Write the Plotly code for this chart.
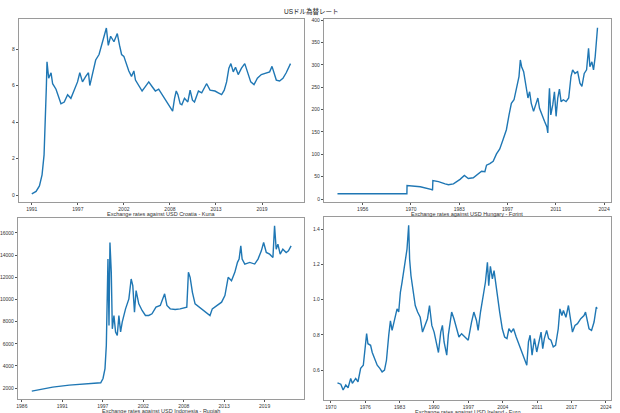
import pandas as pd
import plotly.graph_objects as go

# readings: decimal year / rate against USD
kuna_year = [1991.9, 1992.41, 1992.81, 1993.12, 1993.36, 1993.52, 1993.63, 1993.71, 1993.91, 1994.19,
             1994.38, 1994.78, 1995.17, 1995.37, 1995.76, 1996.16, 1996.55, 1996.94, 1997.34, 1997.61,
             1997.93, 1998.32, 1998.64, 1998.8, 1999.11, 1999.5, 1999.9, 2000.21, 2000.49, 2000.77,
             2001.0, 2001.28, 2001.67, 2002.07, 2002.34, 2002.58, 2002.85, 2003.13, 2003.44, 2003.76,
             2004.04, 2004.23, 2004.63, 2005.02, 2005.34, 2005.81, 2006.2, 2006.6, 2006.99, 2007.38,
             2007.78, 2008.17, 2008.45, 2008.65, 2008.88, 2009.08, 2009.28, 2009.55, 2009.75, 2010.06,
             2010.46, 2010.73, 2011.01, 2011.25, 2011.72, 2012.11, 2012.51, 2012.7, 2013.1, 2013.69,
             2014.08, 2014.48, 2014.79, 2015.07, 2015.34, 2015.58, 2015.86, 2016.13, 2016.45, 2016.84,
             2017.23, 2017.63, 2017.94, 2018.33, 2018.73, 2019.2, 2019.8, 2020.19, 2020.47, 2020.7,
             2020.98, 2021.37, 2021.77, 2022.16, 2022.44, 2022.67]
kuna_rate = [0.07, 0.2, 0.5, 1.1, 2.2, 3.9, 5.9, 7.3, 6.4, 6.7,
             6.1, 5.8, 5.3, 5.0, 5.1, 5.5, 5.3, 5.7, 6.2, 6.7,
             6.2, 6.5, 6.7, 6.0, 6.6, 7.4, 7.7, 8.2, 8.8, 9.15,
             8.2, 8.7, 8.4, 8.85, 8.2, 7.7, 7.6, 7.2, 6.8, 6.5,
             6.8, 6.3, 6.0, 5.7, 5.9, 6.2, 5.95, 5.7, 5.8, 5.5,
             5.2, 4.95, 4.7, 4.6, 5.3, 5.7, 5.5, 5.0, 4.95, 5.3,
             5.1, 5.75, 5.2, 5.1, 5.7, 5.6, 5.95, 6.1, 5.75, 5.7,
             5.6, 5.5, 5.75, 6.2, 6.95, 7.2, 6.75, 7.0, 6.6, 6.95,
             7.2, 6.7, 6.2, 6.05, 6.4, 6.6, 6.7, 6.75, 7.05, 6.7,
             6.3, 6.25, 6.4, 6.7, 6.95, 7.2]

forint_year = [1949.17, 1968.85, 1968.89, 1972.65, 1975.94, 1976.12, 1976.22, 1977.81, 1979.69, 1980.63,
               1982.04, 1983.92, 1985.14, 1986.26, 1987.67, 1989.08, 1990.02, 1990.96, 1991.43, 1992.37,
               1993.31, 1994.25, 1995.18, 1996.12, 1997.06, 1997.81, 1998.47, 1999.22, 1999.88, 2000.63,
               2001.01, 2001.38, 2001.95, 2002.51, 2003.17, 2003.64, 2004.11, 2004.76, 2005.33, 2005.98,
               2006.45, 2007.11, 2007.86, 2008.52, 2008.8, 2009.08, 2009.27, 2009.65, 2010.21, 2010.68,
               2011.15, 2011.62, 2012.09, 2012.56, 2013.21, 2013.97, 2014.72, 2015.37, 2015.84, 2016.5,
               2017.25, 2017.91, 2018.47, 2019.13, 2019.79, 2020.35, 2020.73, 2021.29, 2021.76, 2022.23,
               2022.6, 2022.89]
forint_rate = [11.9, 11.9, 30.4, 27.5, 21, 19.5, 41.5, 39, 34, 32,
               34, 44, 52.7, 46, 47.5, 55, 62, 61, 75.7, 79.4,
               84.6, 101, 112, 133, 155, 188, 214, 222, 244, 274,
               311, 296, 285, 255, 226, 240, 214, 196, 211, 226,
               203, 188, 174, 162, 148, 218, 248, 188, 211, 240,
               185, 226, 246, 218, 222, 218, 226, 274, 289, 281,
               285, 259, 252, 281, 289, 337, 296, 307, 289, 318,
               367, 383]

rupiah_year = [1987.77, 1990.6, 1992.84, 1995.08, 1997.1, 1997.41, 1997.68, 1997.86, 1997.99, 1998.08,
               1998.22, 1998.35, 1998.53, 1998.67, 1998.89, 1999.11, 1999.34, 1999.56, 1999.79, 2000.01,
               2000.46, 2000.91, 2001.22, 2001.44, 2001.67, 2001.89, 2002.25, 2002.7, 2003.15, 2003.6,
               2004.04, 2004.58, 2005.16, 2005.75, 2006.06, 2006.51, 2007.18, 2007.85, 2008.75, 2008.97,
               2009.2, 2009.51, 2009.87, 2010.77, 2011.44, 2011.89, 2012.2, 2012.78, 2013.46, 2013.91,
               2014.35, 2014.8, 2015.25, 2015.61, 2015.83, 2016.06, 2016.24, 2016.6, 2017.27, 2017.94,
               2018.39, 2018.84, 2019.15, 2019.51, 2019.96, 2020.41, 2020.63, 2020.85, 2021.08, 2021.39,
               2021.75, 2022.2, 2022.51, 2022.87]
rupiah_rate = [1730, 2090, 2270, 2360, 2480, 2870, 3760, 5860, 11240, 13640,
               7650, 15130, 12440, 7350, 8550, 7060, 6760, 8550, 7060, 7950,
               9150, 10050, 11840, 11240, 8850, 10800, 9600, 9000, 8550, 8550,
               8700, 9300, 9450, 10500, 9450, 9150, 9090, 9150, 9300, 12440,
               11990, 10640, 9600, 9150, 8850, 8550, 9150, 9450, 9750, 10350,
               11990, 11690, 12440, 13340, 13640, 14830, 13640, 13190, 13340, 13190,
               13640, 14380, 15130, 14230, 14080, 13790, 16630, 14530, 14980, 14080,
               14530, 14230, 14380, 14830]

euro_year = [1971.32, 1971.98, 1972.44, 1972.97, 1973.43, 1973.95, 1974.28, 1974.94, 1975.4, 1975.93,
             1976.46, 1976.79, 1977.12, 1977.38, 1977.91, 1978.24, 1978.57, 1978.9, 1979.23, 1979.75,
             1980.21, 1980.68, 1981.07, 1981.53, 1981.86, 1982.19, 1982.65, 1983.18, 1983.51, 1983.84,
             1984.17, 1984.5, 1984.83, 1985.16, 1985.49, 1985.68, 1985.95, 1986.34, 1986.8, 1987.27,
             1987.79, 1988.25, 1988.78, 1989.24, 1989.64, 1990.1, 1990.56, 1991.09, 1991.42, 1991.88,
             1992.21, 1992.54, 1993.07, 1993.39, 1993.72, 1994.05, 1994.51, 1995.04, 1995.5, 1996.03,
             1996.69, 1997.35, 1998.01, 1998.47, 1998.99, 1999.32, 1999.79, 2000.31, 2000.77, 2001.17,
             2001.43, 2001.76, 2002.16, 2002.49, 2002.82, 2003.15, 2003.61, 2004.13, 2004.6, 2005.06,
             2005.45, 2005.91, 2006.37, 2006.9, 2007.56, 2008.22, 2008.75, 2009.01, 2009.34, 2009.67,
             2010.06, 2010.53, 2010.99, 2011.52, 2011.85, 2012.18, 2012.5, 2012.96, 2013.36, 2013.82,
             2014.28, 2014.74, 2015.27, 2015.6, 2016.0, 2016.3, 2016.8, 2017.3, 2017.6, 2018.1,
             2018.6, 2019.1, 2019.75, 2020.4, 2020.7, 2021.1, 2021.4, 2021.9, 2022.4, 2022.85,
             2023.0]
euro_rate = [0.528, 0.52, 0.487, 0.515, 0.50, 0.553, 0.525, 0.553, 0.534, 0.61,
             0.628, 0.722, 0.807, 0.75, 0.741, 0.70, 0.675, 0.647, 0.628, 0.61,
             0.59, 0.60, 0.656, 0.80, 0.88, 0.826, 0.892, 0.948, 0.93, 1.042,
             1.099, 1.165, 1.23, 1.287, 1.423, 1.23, 1.136, 1.061, 0.967, 0.93,
             0.90, 0.816, 0.854, 0.892, 0.967, 0.854, 0.816, 0.741, 0.70, 0.816,
             0.854, 0.76, 0.685, 0.80, 0.882, 0.93, 0.892, 0.835, 0.788, 0.807,
             0.788, 0.77, 0.873, 0.93, 0.882, 0.826, 0.93, 1.014, 1.099, 1.212,
             1.08, 1.19, 1.118, 1.165, 1.09, 1.005, 0.93, 0.835, 0.788, 0.779,
             0.835, 0.816, 0.835, 0.788, 0.741, 0.685, 0.647, 0.628, 0.76, 0.798,
             0.685, 0.779, 0.703, 0.779, 0.816, 0.722, 0.779, 0.826, 0.779, 0.77,
             0.732, 0.741, 0.835, 0.948, 0.91, 0.939, 0.90, 0.967, 0.90, 0.816,
             0.854, 0.864, 0.892, 0.91, 0.93, 0.882, 0.835, 0.826, 0.873, 0.958,
             0.948]

titles = ['Exchange rates against USD Croatia - Kuna',
          'Exchange rates against USD Hungary - Forint',
          'Exchange rates against USD Indonesia - Rupiah',
          'Exchange rates against USD Ireland - Euro']

W, H = 620, 413
EPOCH = pd.Timestamp('1970-01-01')


def to_dates(years):
    return [EPOCH + pd.Timedelta(days=(y - 1970) * 365.25) for y in years]


def day(n):
    return EPOCH + pd.Timedelta(days=n)


def xdom(left, right):
    return [left / W, right / W]


def ydom(top, bottom):
    return [1 - bottom / H, 1 - top / H]


fig = go.Figure()
series = [(kuna_year, kuna_rate), (forint_year, forint_rate),
          (rupiah_year, rupiah_rate), (euro_year, euro_rate)]
for i, (yrs, vals) in enumerate(series):
    n = '' if i == 0 else str(i + 1)
    fig.add_trace(go.Scatter(x=to_dates(yrs), y=vals, mode='lines',
                             line=dict(color='#1f77b4', width=1.4),
                             xaxis='x' + n, yaxis='y' + n, showlegend=False))

# panel frames in pixels, axis ranges (days since 1970) and tick steps
panels = [
    dict(px=(16, 303, 17, 201), xr=(7439, 19826), xt=range(8000, 18001, 2000),
         yr=(-0.38, 9.65), yt=[0, 2, 4, 6, 8], fmt=''),
    dict(px=(323, 611.5, 17, 201), xr=(-9012, 20669), xt=range(-5000, 20001, 5000),
         yr=(-6.7, 402.9), yt=list(range(0, 401, 50)), fmt=''),
    dict(px=(15, 303, 217, 399), xr=(5804, 19950), xt=range(6000, 18001, 2000),
         yr=(1013, 17346), yt=list(range(2000, 16001, 2000)), fmt='d'),
    dict(px=(323, 611.5, 216, 400), xr=(-505, 20339), xt=range(0, 20001, 2500),
         yr=(0.43, 1.47), yt=[0.6, 0.8, 1.0, 1.2, 1.4], fmt='.1f'),
]

axis_style = dict(showline=True, linecolor='#9a9a9a', linewidth=1, mirror=True,
                  showgrid=False, zeroline=False, ticks='outside', ticklen=2,
                  tickcolor='#555555', tickfont=dict(size=5, color='#333333'))

annotations = []
for i, p in enumerate(panels):
    n = '' if i == 0 else str(i + 1)
    left, right, top, bottom = p['px']
    fig.layout['xaxis' + n] = dict(
        domain=xdom(left, right), anchor='y' + n,
        range=[day(p['xr'][0]), day(p['xr'][1])],
        tickvals=[day(d) for d in p['xt']], tickformat='%Y', **axis_style)
    fig.layout['yaxis' + n] = dict(
        domain=ydom(top, bottom), anchor='x' + n,
        range=list(p['yr']), tickvals=p['yt'], tickformat=p['fmt'], **axis_style)
    annotations.append(dict(
        text=titles[i], x=(left + right) / 2 / W, y=1 - (bottom + 12) / H,
        xref='paper', yref='paper', xanchor='center', yanchor='middle',
        showarrow=False, font=dict(size=5.5, color='#333333')))

annotations.append(dict(
    text='USドル為替レート', x=0.5, y=1 - 10 / H, xref='paper', yref='paper',
    xanchor='center', yanchor='middle', showarrow=False,
    font=dict(size=6.5, color='#222222')))

fig.update_layout(
    width=W, height=H,
    margin=dict(l=0, r=0, t=0, b=0),
    paper_bgcolor='white',
    plot_bgcolor='white',
    font=dict(family='Liberation Sans, Noto Sans CJK JP, sans-serif'),
    annotations=annotations,
)

# page body has a default margin, drop it so the figure fills the window
fig.write_html("out.html", config={'displayModeBar': False},
               post_script="document.body.style.margin = '0';")
